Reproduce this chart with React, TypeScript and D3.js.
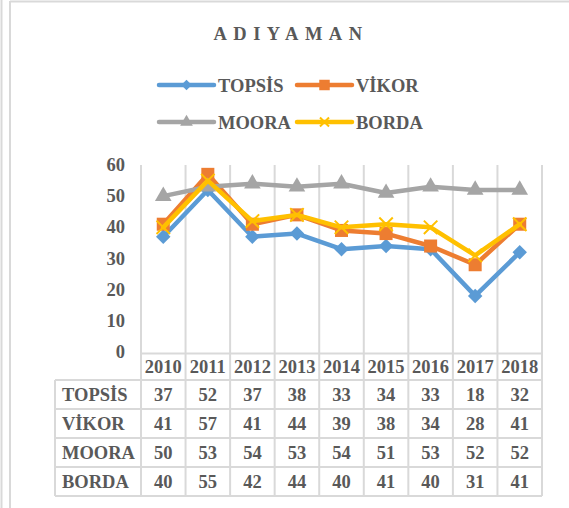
import React, { useEffect, useRef } from 'react';
import * as d3 from 'd3';

const years = ['2010', '2011', '2012', '2013', '2014', '2015', '2016', '2017', '2018'];
const topsis = [37, 52, 37, 38, 33, 34, 33, 18, 32];
const vikor = [41, 57, 41, 44, 39, 38, 34, 28, 41];
const moora = [50, 53, 54, 53, 54, 51, 53, 52, 52];
const borda = [40, 55, 42, 44, 40, 41, 40, 31, 41];
const yTicks = [0, 10, 20, 30, 40, 50, 60];

// marker: kind, size in chart, size in legend
const seriesDefs = [
  { name: 'TOPSİS', values: topsis, color: '#5B9BD5', kind: 'diamond', size: 105, lsize: 55 },
  { name: 'VİKOR', values: vikor, color: '#ED7D31', kind: 'square', size: 170, lsize: 110 },
  { name: 'MOORA', values: moora, color: '#A5A5A5', kind: 'triangle', size: 120, lsize: 70 },
  { name: 'BORDA', values: borda, color: '#FFC000', kind: 'x', size: 120, lsize: 55 },
];

const W = 569;
const H = 508;
const FONT = '"Liberation Serif", "Times New Roman", serif';
const TEXT = '#595959';
const GRID = '#D9D9D9';

const symbolPath = (kind: string, size: number) => {
  const t = kind === 'triangle' ? d3.symbolTriangle : kind === 'x' ? d3.symbolX : d3.symbolSquare;
  return d3.symbol(t, size)() as string;
};

const App: React.FC = () => {
  const ref = useRef<SVGSVGElement>(null);

  useEffect(() => {
    if (!ref.current) return;
    const root = d3.select(ref.current);
    root.selectAll('*').remove();

    const plotLeft = 141, plotRight = 542, plotTop = 165, plotBottom = 352;
    const tableLeft = 55, headerBottom = 380, rowH = 29;

    const x = d3.scaleBand<string>().domain(years).range([plotLeft, plotRight]);
    const y = d3.scaleLinear().domain([0, 60]).range([plotBottom, plotTop]);
    const cx = (i: number) => (x(years[i]) as number) + x.bandwidth() / 2;

    const addMarker = (g: any, kind: string, size: number, color: string, px: number, py: number) => {
      const rot = kind === 'diamond' ? ' rotate(45)' : '';
      g.append('path')
        .attr('d', symbolPath(kind, size))
        .attr('transform', `translate(${px},${py})${rot}`)
        .attr('fill', kind === 'x' ? 'none' : color)
        .attr('stroke', color)
        .attr('stroke-width', kind === 'x' ? 2 : 0);
    };

    // frame
    root.append('rect').attr('x', 0).attr('y', 0).attr('width', W).attr('height', H).attr('fill', 'white');
    root.append('line').attr('x1', 1.5).attr('x2', 1.5).attr('y1', 0).attr('y2', H).attr('stroke', GRID).attr('stroke-width', 2);
    root.append('line').attr('x1', 10).attr('x2', 10).attr('y1', 1).attr('y2', H).attr('stroke', GRID).attr('stroke-width', 2);
    root.append('line').attr('x1', 10).attr('x2', W).attr('y1', 1.5).attr('y2', 1.5).attr('stroke', GRID).attr('stroke-width', 2);

    // title
    root.append('text')
      .attr('x', 291).attr('y', 40)
      .attr('text-anchor', 'middle')
      .style('font-family', FONT).style('font-weight', 'bold').style('font-size', '18.5px')
      .style('letter-spacing', '6.5px')
      .attr('fill', TEXT)
      .text('ADIYAMAN');

    // legend
    const legendPos = [
      { lx: 159, ly: 85 }, { lx: 297, ly: 85 },
      { lx: 159, ly: 122 }, { lx: 297, ly: 122 },
    ];
    seriesDefs.forEach((s, i) => {
      const { lx, ly } = legendPos[i];
      const g = root.append('g');
      g.append('line').attr('x1', lx).attr('x2', lx + 55).attr('y1', ly).attr('y2', ly)
        .attr('stroke', s.color).attr('stroke-width', 4.5).attr('stroke-linecap', 'round');
      addMarker(g, s.kind, s.lsize, s.color, lx + 27.5, ly);
      g.append('text')
        .attr('x', lx + 59).attr('y', ly + 6.5)
        .style('font-family', FONT).style('font-weight', 'bold').style('font-size', '18.5px')
        .attr('fill', TEXT)
        .text(s.name);
    });

    // vertical grid / table column lines
    const bounds = [...years.map(d => x(d) as number), plotRight];
    bounds.forEach(bx => {
      root.append('line').attr('x1', bx).attr('x2', bx).attr('y1', plotTop).attr('y2', headerBottom + rowH * 4)
        .attr('stroke', GRID).attr('stroke-width', 2);
    });
    root.append('line').attr('x1', tableLeft).attr('x2', tableLeft).attr('y1', headerBottom).attr('y2', headerBottom + rowH * 4)
      .attr('stroke', GRID).attr('stroke-width', 2);
    root.append('line').attr('x1', plotLeft).attr('x2', plotRight).attr('y1', plotBottom + 1.5).attr('y2', plotBottom + 1.5)
      .attr('stroke', GRID).attr('stroke-width', 2);
    for (let r = 0; r <= 4; r++) {
      const ry = headerBottom + r * rowH;
      root.append('line').attr('x1', tableLeft).attr('x2', plotRight).attr('y1', ry).attr('y2', ry)
        .attr('stroke', GRID).attr('stroke-width', 2);
    }

    // y labels
    root.selectAll('text.ytick').data(yTicks).join('text')
      .attr('class', 'ytick')
      .attr('x', 125).attr('y', d => y(d) + 6)
      .attr('text-anchor', 'end')
      .style('font-family', FONT).style('font-weight', 'bold').style('font-size', '18.5px')
      .attr('fill', TEXT)
      .text(d => d);

    // header row (years)
    root.selectAll('text.year').data(years).join('text')
      .attr('class', 'year')
      .attr('x', (_, i) => cx(i))
      .attr('y', 373)
      .attr('text-anchor', 'middle')
      .style('font-family', FONT).style('font-weight', 'bold').style('font-size', '18.5px')
      .attr('fill', TEXT)
      .text(d => d);

    // table rows
    seriesDefs.forEach((s, r) => {
      const ty = headerBottom + r * rowH + rowH / 2 + 6;
      root.append('text')
        .attr('x', 62).attr('y', ty)
        .style('font-family', FONT).style('font-weight', 'bold').style('font-size', '18.5px')
        .attr('fill', TEXT)
        .text(s.name);
      s.values.forEach((v, i) => {
        root.append('text')
          .attr('x', cx(i))
          .attr('y', ty)
          .attr('text-anchor', 'middle')
          .style('font-family', FONT).style('font-weight', 'bold').style('font-size', '18.5px')
          .attr('fill', TEXT)
          .text(v);
      });
    });

    // series lines and markers
    const line = d3.line<number>()
      .x((_, i) => cx(i))
      .y(d => y(d));

    seriesDefs.forEach(s => {
      root.append('path')
        .datum(s.values)
        .attr('d', line)
        .attr('fill', 'none')
        .attr('stroke', s.color)
        .attr('stroke-width', 4.5)
        .attr('stroke-linejoin', 'round')
        .attr('stroke-linecap', 'round');
      const g = root.append('g');
      s.values.forEach((v, i) => addMarker(g, s.kind, s.size, s.color, cx(i), y(v)));
    });
  }, []);

  return (
    <svg ref={ref} width={W} height={H} style={{ position: 'absolute', left: 0, top: 0 }} />
  );
};

export default App;
